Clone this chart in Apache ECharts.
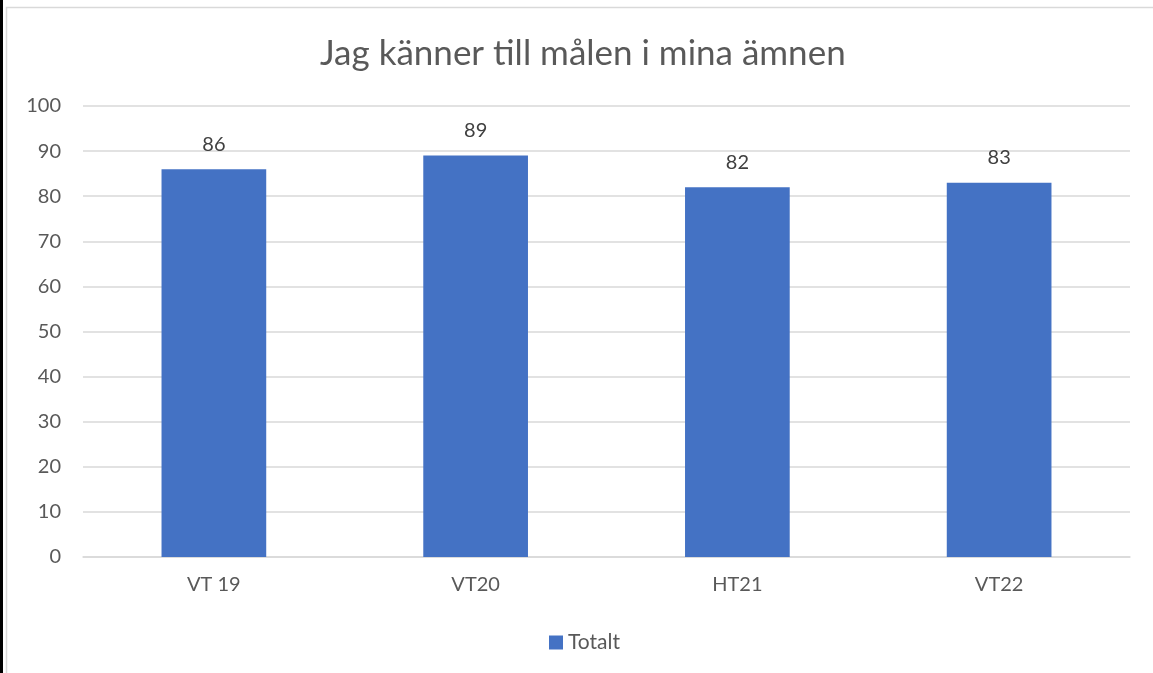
<!DOCTYPE html>
<html>
<head>
<meta charset="utf-8">
<script src="https://cdn.jsdelivr.net/npm/echarts@6/dist/echarts.min.js"></script>
<style>
html,body{margin:0;padding:0;background:#fff;}
#chart{width:1153px;height:673px;}
</style>
</head>
<body>
<div id="chart"></div>
<script>
const categories = ["VT 19", "VT20", "HT21", "VT22"];
const totaltValues = [86, 89, 82, 83];
const seriesName = "Totalt";
const titleText = "Jag känner till målen i mina ämnen";

const chart = echarts.init(document.getElementById('chart'));
const font = 'Lato, "Open Sans", sans-serif';
chart.setOption({
  animation: false,
  textStyle: { fontFamily: font },
  graphic: [
    { type: 'rect', shape: { x: 6.5, y: 7.5, width: 1160, height: 680 }, style: { fill: 'none', stroke: '#d9d9d9', lineWidth: 1.5 }, silent: true },
    { type: 'line', shape: { x1: 1.5, y1: 0, x2: 1.5, y2: 673 }, style: { stroke: '#000', lineWidth: 3 }, silent: true }
  ],
  title: {
    text: titleText,
    left: 320,
    top: 36,
    padding: 0,
    textStyle: { fontFamily: font, fontSize: 35, fontWeight: 'normal', color: '#595959' }
  },
  legend: {
    bottom: 20,
    left: 549,
    padding: 0,
    itemWidth: 14,
    itemHeight: 14,
    itemGap: 6,
    textStyle: { fontFamily: font, fontSize: 21, color: '#595959' },
    data: [{ name: seriesName, icon: 'rect' }]
  },
  grid: { left: 83, right: 23, top: 106, bottom: 116, containLabel: false },
  xAxis: {
    type: 'category',
    data: categories,
    axisTick: { show: false },
    axisLine: { lineStyle: { color: '#d9d9d9', width: 1.5 } },
    axisLabel: { fontFamily: font, fontSize: 20, color: '#595959', margin: 18 }
  },
  yAxis: {
    type: 'value',
    min: 0,
    max: 100,
    interval: 10,
    axisLine: { show: false },
    axisTick: { show: false },
    splitLine: { lineStyle: { color: '#d9d9d9', width: 1.5 } },
    axisLabel: { fontFamily: font, fontSize: 20, color: '#595959', margin: 22 }
  },
  series: [{
    name: seriesName,
    type: 'bar',
    data: totaltValues,
    barWidth: '40%',
    itemStyle: { color: '#4472c4' },
    label: { show: true, position: 'top', distance: 15, fontFamily: font, fontSize: 20, color: '#404040' }
  }]
});
</script>
</body>
</html>
